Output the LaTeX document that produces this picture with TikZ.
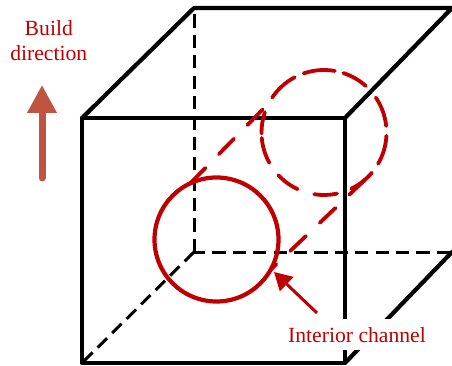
\documentclass[tikz,border=0pt]{standalone}
\usepackage{xcolor}
\usepackage{fontspec}
\setmainfont{Liberation Serif}
\usetikzlibrary{arrows.meta}
\definecolor{ChannelRed}{HTML}{C00000}
\definecolor{BuildRed}{HTML}{BE5441}

\begin{document}
\begin{tikzpicture}[
  edge/.style={draw=black, line width=0.105cm, line cap=round, line join=round},
  hidden/.style={draw=black, line width=0.075cm, dash pattern=on 0.33cm off 0.18cm},
  channel/.style={circle, draw=ChannelRed, line width=0.105cm, outer sep=0pt, inner sep=0pt},
  ghost/.style={draw=ChannelRed, line width=0.095cm, line cap=round},
  ghostline/.style={ghost, dash pattern=on 0.54cm off 0.48cm},
  label/.style={text=ChannelRed, font=\fontsize{15.4}{17.8}\selectfont}
]
\useasboundingbox (0,0) rectangle (11.3,9.125);

% Cube corners
\coordinate (ftl) at (2.05,6.175);
\coordinate (ftr) at (8.625,6.175);
\coordinate (fbr) at (8.625,0.05);
\coordinate (fbl) at (2.05,0.05);
\coordinate (btl) at (4.85,8.925);
\coordinate (btr) at (11.3,8.925);
\coordinate (bbr) at (11.3,2.825);
\coordinate (bbl) at (4.85,2.825);

% Hidden edges
\draw[hidden] (bbl) -- (btl);
\draw[hidden, dash phase=0.05cm] (bbl) -- (bbr);
\draw[hidden] (bbl) -- (fbl);

% Visible edges
\draw[edge] (ftl) -- (ftr) -- (fbr) -- (fbl) -- cycle;
\draw[edge] (ftl) -- (btl) -- (btr) -- (ftr);
\draw[edge] (bbr) -- (fbr);

% Channel
\node[channel, minimum size=3.1cm] (front) at (5.4125,3.1375) {};
\node[channel, draw=none, minimum size=3.125cm] (back) at (8.1,5.8125) {};
\foreach \from/\to in {109/80, 72/48, 34/6, -3/-30, -40/-64, -78/-99, -115/-137, -151/-175, 181/161, 146/118}
  \draw[ghost] ([shift={(\from:1.5625cm)}]back.center) arc[start angle=\from, end angle=\to, radius=1.5625cm];
\draw[ghostline] (front.115) -- (back.152);
\draw[ghostline, dash phase=0.345cm] (front.-29) -- (back.-47);

% Build direction
\coordinate (buildtail) at (1.05,4.675);
\coordinate (buildhead) at (1.05,7.0);
\draw[-{Triangle[length=0.7cm, width=0.7cm]}, BuildRed, line width=0.175cm, line cap=round] (buildtail) -- (buildhead);
\node[label, align=center] (build) at (1.22,8.12) {Build\\direction};

% Interior channel label
\node[label, fill=white, anchor=base, inner xsep=0pt, inner ysep=0pt, text height=0.575cm, text depth=0.2cm] (interior) at (8.925,0.575) {Interior channel};
\coordinate (tail) at (7.925,1.3);
\coordinate (tip) at (6.85,2.325);
\draw[-{Triangle[length=0.44cm, width=0.48cm]}, ChannelRed, line width=0.075cm] (tail) -- (tip);

\end{tikzpicture}
\end{document}
